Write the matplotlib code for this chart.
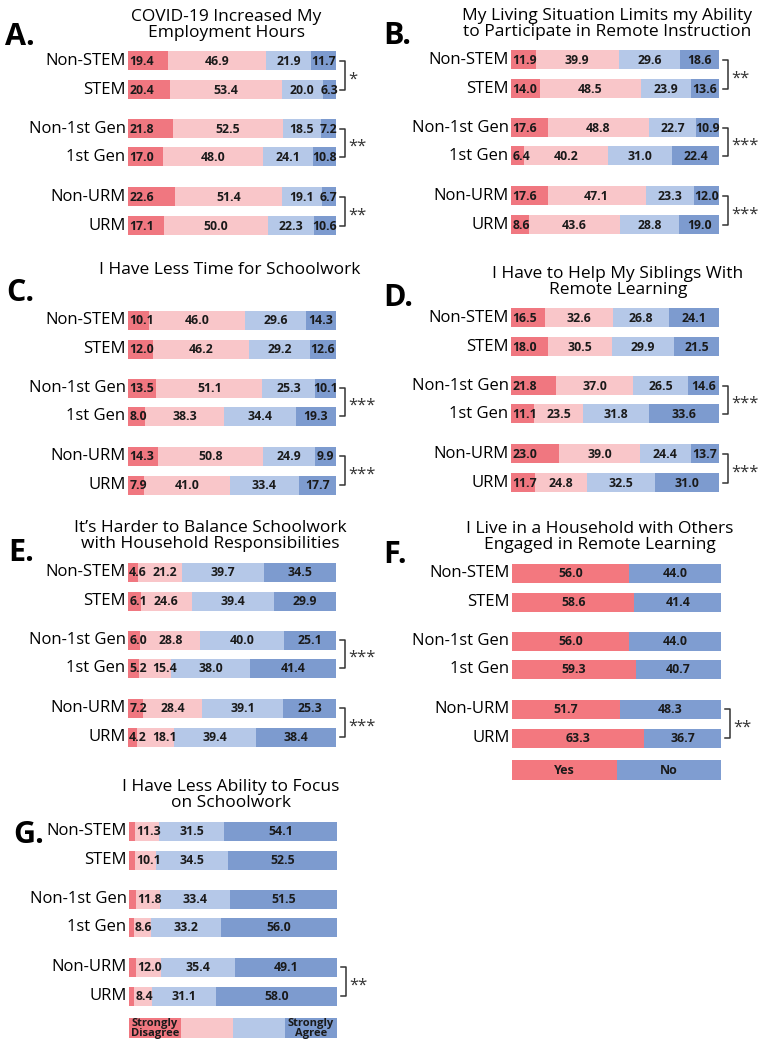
import matplotlib
matplotlib.use('Agg')
import matplotlib.pyplot as plt
import numpy as np

plt.rcParams['font.family'] = ['Open Sans', 'DejaVu Sans']

W, H = 770, 1047

groups = ['Non-STEM', 'STEM', 'Non-1st Gen', '1st Gen', 'Non-URM', 'URM']

# percent of respondents, Strongly Disagree -> Strongly Agree
A_vals = [[19.4, 46.9, 21.9, 11.7],
          [20.4, 53.4, 20.0, 6.3],
          [21.8, 52.5, 18.5, 7.2],
          [17.0, 48.0, 24.1, 10.8],
          [22.6, 51.4, 19.1, 6.7],
          [17.1, 50.0, 22.3, 10.6]]
B_vals = [[11.9, 39.9, 29.6, 18.6],
          [14.0, 48.5, 23.9, 13.6],
          [17.6, 48.8, 22.7, 10.9],
          [6.4, 40.2, 31.0, 22.4],
          [17.6, 47.1, 23.3, 12.0],
          [8.6, 43.6, 28.8, 19.0]]
C_vals = [[10.1, 46.0, 29.6, 14.3],
          [12.0, 46.2, 29.2, 12.6],
          [13.5, 51.1, 25.3, 10.1],
          [8.0, 38.3, 34.4, 19.3],
          [14.3, 50.8, 24.9, 9.9],
          [7.9, 41.0, 33.4, 17.7]]
D_vals = [[16.5, 32.6, 26.8, 24.1],
          [18.0, 30.5, 29.9, 21.5],
          [21.8, 37.0, 26.5, 14.6],
          [11.1, 23.5, 31.8, 33.6],
          [23.0, 39.0, 24.4, 13.7],
          [11.7, 24.8, 32.5, 31.0]]
E_vals = [[4.6, 21.2, 39.7, 34.5],
          [6.1, 24.6, 39.4, 29.9],
          [6.0, 28.8, 40.0, 25.1],
          [5.2, 15.4, 38.0, 41.4],
          [7.2, 28.4, 39.1, 25.3],
          [4.2, 18.1, 39.4, 38.4]]
# Yes / No
F_vals = [[56.0, 44.0],
          [58.6, 41.4],
          [56.0, 44.0],
          [59.3, 40.7],
          [51.7, 48.3],
          [63.3, 36.7]]
G_vals = [[3.1, 11.3, 31.5, 54.1],
          [2.9, 10.1, 34.5, 52.5],
          [3.3, 11.8, 33.4, 51.5],
          [2.2, 8.6, 33.2, 56.0],
          [3.5, 12.0, 35.4, 49.1],
          [2.5, 8.4, 31.1, 58.0]]

A_sig = ['*', '**', '**']
B_sig = ['**', '***', '***']
C_sig = ['', '***', '***']
D_sig = ['', '***', '***']
E_sig = ['', '***', '***']
F_sig = ['', '', '**']
G_sig = ['', '', '**']

titles = {
    'A': 'COVID-19 Increased My\nEmployment Hours',
    'B': 'My Living Situation Limits my Ability\nto Participate in Remote Instruction',
    'C': 'I Have Less Time for Schoolwork',
    'D': 'I Have to Help My Siblings With\nRemote Learning',
    'E': 'It\u2019s Harder to Balance Schoolwork\nwith Household Responsibilities',
    'F': 'I Live in a Household with Others\nEngaged in Remote Learning',
    'G': 'I Have Less Ability to Focus\non Schoolwork',
}

likert_cols = ['#F07780', '#F9C6C9', '#B5C8E8', '#7D9BCF']
yn_cols = ['#F3787F', '#7F9DD1']

row_off = np.array([0, 29, 68, 96, 136, 165])
bar_h = 19

fig = plt.figure(figsize=(W / 100, H / 100), dpi=100)
renderer = fig.canvas.get_renderer()


def panel(letter, vals, sig, x0, x1, row0, title_x, letter_xy, key=None):
    vals = np.array(vals)
    ax = fig.add_axes([x0 / W, 1 - (row0 + 215) / H, (x1 - x0) / W, 285 / H])
    ax.set_xlim(0, 100)
    ax.set_ylim(215, -70)
    ax.axis('off')
    px_per = (x1 - x0) / 100.0
    cols = likert_cols if vals.shape[1] == 4 else yn_cols
    left = np.zeros(len(vals))
    prev_end = np.full(len(vals), -10.0)
    for k in range(vals.shape[1]):
        ax.barh(row_off, vals[:, k], left=left, height=bar_h, color=cols[k],
                edgecolor='none')
        for i, v in enumerate(vals[:, k]):
            if v < 4:
                continue
            first = k == 0 or (k == 1 and vals[i, 0] < 4)
            if first and vals.shape[1] == 4:
                xs = left[i] + 0.6
                t = ax.text(xs, row_off[i] + 0.5, f'{v:.1f}', ha='left',
                            va='center', fontsize=8.8, fontweight='bold',
                            color='#1a1a1a')
                wpct = t.get_window_extent(renderer).width / px_per
            else:
                t = ax.text(left[i] + v / 2, row_off[i] + 0.5, f'{v:.1f}',
                            ha='center', va='center', fontsize=8.8,
                            fontweight='bold', color='#1a1a1a')
                wpct = t.get_window_extent(renderer).width / px_per
                xs = left[i] + v / 2 - wpct / 2
                if xs < prev_end[i] + 2.5:
                    xs = prev_end[i] + 2.5
                    t.set_ha('left')
                    t.set_x(xs)
            prev_end[i] = xs + wpct
        left = left + vals[:, k]
    for i, g in enumerate(groups):
        ax.text(-1.2, row_off[i], g, ha='right', va='center', fontsize=12)
    for j, s in enumerate(sig):
        if not s:
            continue
        ya, yb = row_off[2 * j], row_off[2 * j + 1]
        ax.plot([101.8, 104.3, 104.3, 101.8], [ya, ya, yb, yb], color='#333333',
                lw=1.1, clip_on=False)
        ax.text(105.8, (ya + yb) / 2 + 4, s, ha='left', va='center', fontsize=12,
                color='#333333')
    # title and panel letter in figure pixels
    t = titles[letter]
    ty = row0 - (50 if '\n' not in t else 36)
    fig.text(title_x / W, 1 - ty / H, t, ha='center', va='center',
             fontsize=12.5, linespacing=1.0)
    fig.text(letter_xy[0] / W, 1 - letter_xy[1] / H, letter + '.', ha='left',
             va='center', fontsize=22, fontweight='bold')
    if key is not None:
        kv, kl, kc = key
        kleft = 0
        for v, lab, c in zip(kv, kl, kc):
            ax.barh([197], [v], left=[kleft], height=20, color=c, edgecolor='none')
            if lab:
                ax.text(kleft + v / 2, 197.5, lab, ha='center', va='center',
                        fontsize=9 if '\n' not in lab else 8, fontweight='bold',
                        linespacing=0.8, color='#1a1a1a')
            kleft += v
    return ax


panel('A', A_vals, A_sig, 128, 336, 61, 226, (5, 37))
panel('B', B_vals, B_sig, 511, 719, 60, 607, (383, 36))
panel('C', C_vals, C_sig, 128, 336, 320, 230, (6, 293))
panel('D', D_vals, D_sig, 511, 719, 318, 618, (383, 298))
panel('E', E_vals, E_sig, 128, 336, 572, 210, (8, 553))
panel('F', F_vals, F_sig, 512, 721, 573, 600, (383, 555),
      key=([50, 50], ['Yes', 'No'], yn_cols))
panel('G', G_vals, G_sig, 129, 337, 831, 231, (13, 835),
      key=([25, 25, 25, 25], ['Strongly\nDisagree', '', '', 'Strongly\nAgree'],
           likert_cols))

fig.savefig('out.png', dpi=100)
